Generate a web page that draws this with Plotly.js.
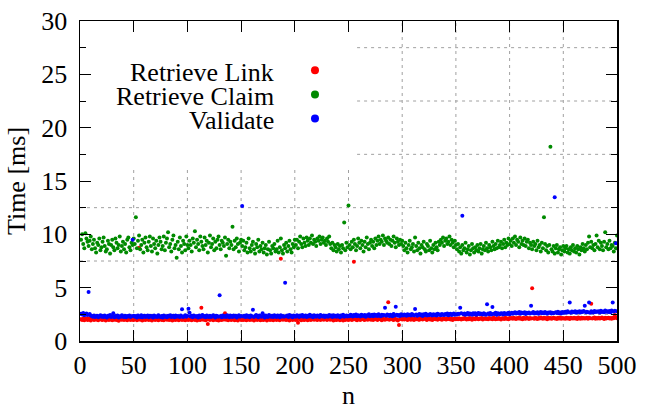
<!DOCTYPE html>
<html>
<head>
<meta charset="utf-8">
<script src="https://cdn.plot.ly/plotly-3.0.1.min.js"></script>
<style>html,body{margin:0;padding:0;background:#fff;}
#chart text{font-family:"Times New Roman","Liberation Serif",serif !important;}</style>
</head>
<body>
<div id="chart"></div>
<script>
const seriesNames = ["Retrieve Link", "Retrieve Claim", "Validate"];
const seriesColors = ["#ff0000", "#008a00", "#0000ff"];

const retrieveLink = [
2.05,1.98,2.12,1.95,2.03,2.10,1.97,2.01,2.15,1.93,2.04,2.08,1.96,2.02,2.11,1.99,1.94,2.06,2.13,2.00,1.97,2.09,2.03,1.92,2.07,2.01,1.98,2.14,2.02,1.95,2.06,2.00,2.10,1.96,2.04,1.91,2.08,2.02,1.99,2.12,1.97,2.05,2.01,1.94,2.09,2.03,1.98,2.11,2.00,1.96,
2.04,2.08,1.95,2.02,8.75,1.99,2.10,1.93,2.06,2.01,1.97,2.12,2.03,1.96,2.07,2.00,1.92,2.09,2.04,1.98,2.13,2.01,1.95,2.05,2.10,1.97,2.02,1.94,2.08,2.03,1.99,2.11,1.96,2.04,2.00,1.93,2.07,2.02,1.98,2.14,2.01,1.95,2.06,2.03,1.97,2.09,2.00,1.94,2.05,2.02,
1.98,2.07,2.01,1.95,2.10,2.03,1.97,2.04,1.92,2.08,2.00,1.96,3.12,2.05,1.99,2.11,1.94,2.02,1.60,2.06,1.97,2.03,2.09,1.95,2.01,2.12,1.98,2.04,1.93,2.07,2.00,1.96,2.10,2.02,2.60,1.99,2.05,1.94,2.08,2.01,1.97,2.13,2.03,1.95,2.06,2.00,1.92,2.09,2.04,1.98,
2.02,1.96,2.07,2.00,1.94,2.11,2.03,1.97,2.05,1.99,2.08,1.93,2.01,2.06,1.98,2.10,2.02,1.95,2.04,2.00,1.97,2.09,2.03,1.92,2.06,2.01,1.98,2.12,2.00,1.95,2.07,2.03,1.96,2.10,2.01,1.94,7.70,2.05,1.99,2.08,2.02,1.96,2.11,2.00,1.93,2.06,2.03,1.98,2.09,2.01,
1.97,2.05,1.70,2.08,2.02,1.95,2.10,2.00,1.98,2.06,2.03,1.94,2.12,2.01,1.97,2.07,2.04,1.99,2.13,2.02,1.96,2.09,2.05,1.98,2.11,2.03,2.00,2.14,2.06,1.97,2.10,2.04,1.99,2.08,2.02,1.93,2.06,2.00,1.96,2.09,2.03,1.95,2.07,2.01,1.92,2.05,1.98,2.10,2.02,1.96,
2.04,2.09,1.97,2.02,7.43,2.07,2.00,1.95,2.11,2.03,1.98,2.06,2.12,2.01,1.96,2.08,2.04,1.99,2.13,2.05,2.00,2.10,1.97,2.07,2.03,2.14,1.98,2.06,2.09,2.02,1.95,2.11,2.05,2.00,2.08,2.03,3.63,1.99,2.07,2.12,2.01,1.96,2.09,2.04,2.00,1.93,1.50,2.06,2.10,2.02,
2.07,2.01,2.12,2.04,1.98,2.10,2.06,2.00,2.14,2.03,1.97,2.09,2.05,2.11,2.02,1.99,2.13,2.06,2.01,2.08,2.15,2.03,1.98,2.10,2.07,2.02,2.12,1.96,2.05,2.09,2.04,2.14,2.00,2.07,2.11,2.03,1.99,2.08,2.13,2.05,2.01,2.10,2.06,2.16,2.02,2.09,1.97,2.07,2.12,2.04,
2.10,2.03,2.14,2.07,2.01,2.12,2.06,2.16,2.09,2.02,2.11,2.05,2.15,2.08,1.99,2.13,2.07,2.03,2.17,2.10,2.04,2.12,2.08,2.15,2.01,2.09,2.14,2.06,2.11,2.03,2.16,2.08,2.12,2.05,2.18,2.10,2.04,2.13,2.07,2.15,2.09,2.02,2.14,2.11,2.06,2.17,2.08,2.12,2.04,2.16,
2.10,2.15,2.08,2.18,2.12,2.06,2.16,2.11,2.20,2.09,2.14,2.05,2.17,2.12,2.08,2.19,2.13,2.07,2.16,2.11,4.94,2.14,2.09,2.18,2.12,2.06,2.15,2.10,2.20,2.13,2.08,2.17,2.11,2.15,2.05,2.19,2.12,2.16,2.09,2.14,2.18,2.10,2.13,2.07,2.17,2.12,2.20,2.09,2.15,2.11,
2.14,2.08,2.18,2.12,2.16,2.06,2.19,2.13,2.10,2.17,2.11,2.15,2.07,2.20,2.13,2.09,2.18,2.12,2.16,2.10,2.14,2.19,2.08,2.17,2.13,3.50,2.11,2.15,2.21,2.09,2.16,2.12,2.18,2.10,2.14,2.20,2.13,2.07,2.17,2.11,2.15,2.19,2.12,2.16,2.09,2.18,2.14,2.44,2.20,2.13
];

const retrieveClaim = [
9.5,10.0,9.1,8.7,10.1,9.6,9.3,8.9,9.4,9.8,8.6,9.1,9.5,8.7,8.3,9.2,9.0,9.6,8.5,8.8,9.3,9.7,8.9,8.4,8.6,9.4,9.1,8.2,9.0,9.5,8.8,8.5,9.6,9.2,8.7,9.0,9.8,8.4,8.9,9.3,8.6,9.1,8.3,9.5,9.7,8.8,8.5,9.2,9.0,9.6,
9.1,11.6,8.7,9.4,9.9,8.6,9.0,9.5,8.3,9.2,9.7,8.8,8.5,9.3,9.8,8.9,8.4,9.6,9.1,8.7,9.4,8.2,9.0,9.7,9.3,8.6,8.9,9.8,8.5,9.2,9.6,10.2,8.8,9.1,8.4,9.5,9.9,8.7,9.0,7.8,9.3,8.6,9.7,8.9,8.3,9.4,9.1,8.5,9.8,9.0,
8.7,9.4,9.0,8.4,9.6,9.2,10.3,8.8,9.5,9.1,8.5,9.8,9.3,8.9,8.6,9.7,9.0,9.4,8.3,9.2,9.9,8.8,9.1,9.6,8.5,9.3,8.7,9.5,9.8,9.0,8.6,9.4,9.2,8.9,9.7,8.0,9.1,9.5,8.7,9.3,9.0,10.7,8.6,9.4,8.8,9.6,9.1,8.4,9.2,9.5,
8.9,9.4,8.5,8.8,9.2,8.3,9.6,8.7,8.4,9.0,9.3,8.6,8.2,9.1,8.8,9.5,8.4,8.9,8.6,9.2,8.3,8.7,9.0,8.1,8.6,9.3,8.5,8.2,8.9,8.7,9.1,8.4,8.6,9.4,8.3,8.8,9.6,8.5,8.2,9.0,8.7,9.2,8.4,8.9,9.4,8.6,8.3,9.1,8.8,9.5,
9.0,9.5,8.7,9.3,9.8,9.1,8.8,9.6,9.2,8.9,9.7,9.4,9.0,9.6,9.2,9.9,9.1,9.5,9.3,8.9,9.6,9.4,9.8,9.1,9.5,9.7,9.2,9.4,9.0,9.6,9.3,9.8,9.1,8.7,9.2,8.5,9.0,8.8,8.4,9.1,8.6,8.9,8.3,9.0,8.7,11.1,8.5,9.2,8.8,12.7,
9.0,8.6,9.3,8.8,9.5,9.1,8.5,8.9,9.6,9.2,8.7,9.4,9.0,8.4,9.3,8.8,9.7,9.1,8.6,9.2,9.5,8.9,9.3,8.7,9.6,9.0,9.4,9.8,9.1,9.5,9.3,9.9,9.0,9.6,9.4,9.2,9.7,9.1,9.5,8.9,9.4,9.8,9.2,8.8,9.6,9.3,9.0,9.5,9.1,9.4,
8.9,8.5,9.2,8.7,8.3,9.0,9.4,8.6,8.8,9.1,8.4,9.7,8.9,8.5,9.2,8.7,8.2,9.0,8.8,9.3,8.6,8.4,9.1,8.9,8.5,9.4,8.7,8.3,9.0,8.6,9.2,8.8,8.5,9.3,9.0,9.5,9.2,9.7,8.9,9.4,9.6,9.1,9.3,9.8,9.0,9.5,9.2,8.8,9.4,9.0,
8.6,9.1,8.4,8.8,8.2,9.0,8.5,8.7,9.2,8.3,8.6,8.9,8.1,8.5,9.1,8.7,8.3,8.8,8.5,9.0,8.4,8.7,9.1,8.2,8.6,8.9,8.5,9.2,8.7,8.4,9.0,8.8,8.5,9.3,8.9,8.6,9.1,8.7,9.4,8.8,9.0,9.3,8.7,9.1,9.5,8.8,9.2,9.0,9.6,9.1,
9.4,8.9,9.6,9.2,9.8,9.0,9.5,9.3,8.8,9.7,9.1,9.4,9.0,9.6,8.9,9.3,9.5,8.7,9.2,9.0,8.6,9.3,8.9,9.1,8.5,9.4,8.8,9.0,8.4,9.2,8.7,11.6,9.1,8.5,8.9,8.3,9.0,18.2,8.6,8.4,8.9,8.2,8.7,9.0,8.3,8.6,8.8,8.1,8.5,8.9,
8.4,8.7,8.9,8.3,8.6,8.2,8.8,8.5,9.0,8.4,8.7,8.3,8.9,8.6,8.1,8.8,8.5,9.1,8.7,8.4,9.0,8.6,9.2,9.8,8.8,9.3,8.7,9.0,8.5,9.1,9.9,8.8,9.4,8.6,9.2,8.9,8.5,9.3,10.2,8.8,9.1,8.6,9.4,8.7,9.0,8.9,8.4,9.2,8.7,9.9
];

const validate = [
2.55,2.48,2.62,2.41,2.50,2.57,2.44,4.60,2.52,2.39,2.35,2.28,2.40,2.25,2.33,2.37,2.22,2.31,2.42,2.27,2.34,2.24,2.38,2.30,2.21,2.36,2.29,2.43,2.26,2.32,2.60,2.23,2.35,2.28,2.39,2.20,2.33,2.27,2.41,2.30,2.25,2.37,2.22,2.34,2.29,2.40,2.24,2.31,9.50,2.36,
2.28,2.35,2.21,2.39,2.30,2.26,2.42,2.23,2.33,2.37,2.25,2.31,2.40,2.22,2.36,2.29,2.34,2.20,2.38,2.27,2.32,2.24,2.41,2.30,2.26,2.35,2.21,2.39,2.28,2.33,2.23,2.37,2.29,2.42,2.25,2.31,2.36,2.22,2.40,2.27,2.34,2.30,2.24,2.38,2.97,2.26,2.33,2.41,2.28,2.35,
3.03,2.65,2.29,2.36,2.22,2.40,2.31,2.27,2.34,2.21,2.38,2.25,2.32,2.43,2.28,2.35,2.23,2.39,2.30,2.26,2.37,2.24,2.33,2.41,2.29,2.20,2.36,2.31,2.27,4.30,2.34,2.22,2.40,2.28,2.35,2.25,2.42,2.30,2.23,2.38,2.32,2.26,2.39,2.29,2.36,2.21,2.33,2.41,2.27,2.35,
12.65,2.30,2.37,2.24,2.41,2.28,2.34,2.22,2.39,2.31,2.94,2.26,2.35,2.43,2.29,2.23,2.38,2.32,2.27,2.60,2.36,2.21,2.40,2.30,2.25,2.44,2.33,2.28,2.37,2.24,2.41,2.31,2.26,2.39,2.34,2.22,2.42,2.29,2.35,2.27,5.47,2.32,2.38,2.25,2.43,2.30,2.36,2.23,2.40,2.33,
2.28,2.41,2.35,2.24,2.38,2.31,2.44,2.27,2.33,2.40,2.25,2.37,2.30,2.45,2.29,2.36,2.22,2.42,2.34,2.28,2.39,2.31,2.26,2.43,2.35,2.29,2.40,2.24,2.37,2.32,2.27,2.44,2.33,2.38,2.25,2.41,2.30,2.36,2.28,2.42,2.34,2.23,2.39,2.31,2.45,2.27,2.35,2.40,2.29,2.37,
2.33,2.46,2.38,2.29,2.43,2.35,2.49,2.32,2.41,2.37,2.30,2.47,2.39,2.34,2.44,2.28,2.42,2.36,2.50,2.33,2.40,2.45,2.31,2.48,2.37,2.43,2.35,2.51,2.39,2.32,2.46,2.38,2.44,3.12,2.36,2.49,2.41,2.34,2.47,2.40,2.33,2.52,2.38,3.22,2.45,2.37,2.43,2.35,2.50,2.42,
2.39,2.48,2.44,2.36,2.51,2.42,2.47,2.38,2.53,2.45,2.40,3.00,2.49,2.37,2.46,2.52,2.41,2.48,2.35,2.50,2.44,2.55,2.39,2.47,2.42,2.53,2.46,2.38,2.51,2.43,2.49,2.40,2.56,2.45,2.48,2.41,2.54,2.47,2.43,2.52,2.46,2.58,2.42,2.50,2.55,2.44,2.49,2.57,2.45,2.51,
2.48,2.56,2.52,3.12,2.60,11.75,2.50,2.58,2.46,2.54,2.62,2.49,2.57,2.53,2.45,2.61,2.51,2.59,2.47,2.55,2.63,2.50,2.58,2.52,2.48,2.60,2.54,2.46,3.44,2.57,2.51,2.62,2.49,3.19,2.56,2.53,2.64,2.47,2.59,2.55,2.50,2.61,2.57,2.48,2.63,2.52,2.58,2.54,2.65,2.51,
2.58,2.66,2.55,2.63,2.69,2.57,2.64,2.60,2.71,2.56,2.67,2.62,2.59,2.70,2.54,2.65,2.61,2.68,2.58,3.31,2.63,2.72,2.57,2.66,2.60,2.69,2.55,2.64,2.71,2.61,2.67,2.59,2.73,2.62,2.56,2.68,2.64,2.70,2.58,2.66,2.61,13.47,2.69,2.63,2.74,2.60,2.67,2.57,2.72,2.65,
2.68,2.75,2.64,2.79,2.70,3.62,2.66,2.77,2.73,2.69,2.80,2.65,2.74,2.71,2.78,2.67,2.76,2.72,2.81,3.31,2.69,2.75,2.70,3.62,2.66,2.79,2.73,2.68,2.82,2.71,2.77,2.74,2.80,2.67,2.83,2.72,2.76,2.70,2.85,2.75,2.78,2.73,2.81,2.69,2.86,3.62,2.76,2.84,9.16,2.79
];

const xTickVals = [0,50,100,150,200,250,300,350,400,450,500];
const yTickVals = [0,5,10,15,20,25,30];
const yGridVals = [2.5,7.5,12.5,17.5,22.5,27.5];

const n = retrieveLink.map((_, i) => i + 1);
const seriesValues = [retrieveLink, retrieveClaim, validate];

const FAM = "Times New Roman";
function tf() { return {family: FAM, size: 26, color: "#000"}; }

const traces = seriesValues.map((vals, k) => ({
  type: "scatter",
  mode: "markers",
  x: n,
  y: vals,
  name: seriesNames[k],
  marker: {color: seriesColors[k], size: 4, line: {width: 0}},
  showlegend: false,
  hoverinfo: "skip"
}));

// gnuplot's opaque key box hides the grid in its area
const keyRight = 258, keyBottom = 16.3;
const gridShapes = [];
xTickVals.slice(1, -1).forEach(v => gridShapes.push({
  type: "line", xref: "x", yref: "y", x0: v, x1: v, y0: 0, y1: v <= keyRight ? keyBottom : 30,
  line: {color: "#a0a0a0", width: 1, dash: "3px,4px"}, layer: "below"
}));
yGridVals.forEach(v => gridShapes.push({
  type: "line", xref: "x", yref: "y", x0: v >= keyBottom ? keyRight : 0, x1: 500, y0: v, y1: v,
  line: {color: "#a0a0a0", width: 1, dash: "3px,4px"}, layer: "below"
}));

// manual key (gnuplot style: text right-aligned, symbol to the right)
const keyTextX = 0.365, keyDotX = 0.4376;
const keyRowsY = [0.840, 0.764, 0.689];
const annotations = seriesNames.map((name, k) => ({
  xref: "paper", yref: "paper", x: keyTextX, y: keyRowsY[k],
  xanchor: "right", yanchor: "middle", text: name, showarrow: false,
  font: tf()
}));
const keyDots = seriesColors.map((c, k) => ({
  type: "circle", xref: "paper", yref: "paper", xsizemode: "pixel", ysizemode: "pixel",
  xanchor: keyDotX, yanchor: keyRowsY[k] + 0.006, x0: -4, x1: 4, y0: -4, y1: 4,
  fillcolor: c, line: {width: 0}, layer: "above"
}));

const layout = {
  width: 653, height: 410,
  margin: {l: 80, r: 36, t: 21, b: 69},
  showlegend: false,
  xaxis: {
    range: [0, 500], tickvals: xTickVals, ticks: "inside", ticklen: 11, tickwidth: 1, tickcolor: "#000",
    showline: true, linecolor: "#000", linewidth: 1.5, mirror: "ticks", zeroline: false,
    showgrid: false,
    tickfont: tf(),
    title: {text: "n", font: tf(), standoff: 14}
  },
  yaxis: {
    range: [0, 30], tickvals: yTickVals, ticks: "inside", ticklen: 11, tickwidth: 1, tickcolor: "#000",
    showline: true, linecolor: "#000", linewidth: 1.5, mirror: "ticks", zeroline: false,
    showgrid: false,
    minor: {dtick: 2.5, tick0: 0, ticks: "inside", ticklen: 6, tickcolor: "#000", showgrid: false},
    tickfont: tf(),
    ticklabelstandoff: 6,
    title: {text: "Time [ms]", font: tf(), standoff: 8}
  },
  annotations: annotations,
  shapes: gridShapes.concat(keyDots)
};

function forceSerif() {
  document.querySelectorAll("#chart text").forEach(t => {
    t.style.setProperty("font-family", '"Times New Roman", "Liberation Serif", serif', "important");
  });
}

Plotly.newPlot("chart", traces, layout, {staticPlot: true, displayModeBar: false}).then(forceSerif);
</script>
</body>
</html>
